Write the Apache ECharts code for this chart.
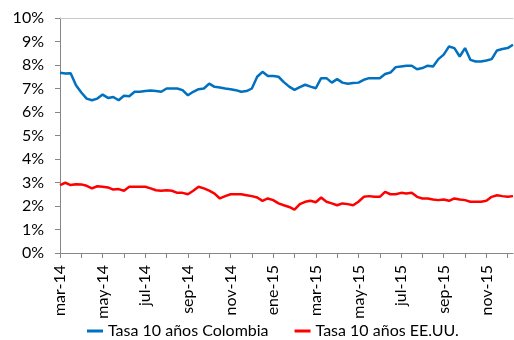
<!DOCTYPE html>
<html>
<head>
<meta charset="utf-8">
<script src="https://cdn.jsdelivr.net/npm/echarts@6/dist/echarts.min.js"></script>
<style>
html,body{margin:0;padding:0;background:#fff;}
#chart{width:514px;height:340px;}
</style>
</head>
<body>
<div id="chart"></div>
<script>
// meses del eje (4 observaciones semanales aprox. por mes)
var months = ['mar-14','abr-14','may-14','jun-14','jul-14','ago-14','sep-14','oct-14','nov-14','dic-14',
              'ene-15','feb-15','mar-15','abr-15','may-15','jun-15','jul-15','ago-15','sep-15','oct-15','nov-15','dic-15'];
var slotsPerMonth = 4;
var totalSlots = 86;

// Tasa 10 años Colombia (%)
var colombia = [
    7.67, 7.64, 7.65, 7.14, 6.83, 6.57, 6.50, 6.57, 6.74, 6.60,
    6.64, 6.50, 6.69, 6.67, 6.86, 6.86, 6.89, 6.91, 6.89, 6.86,
    7.00, 7.00, 7.00, 6.93, 6.71, 6.86, 6.97, 7.00, 7.21, 7.07,
    7.04, 7.00, 6.97, 6.93, 6.86, 6.89, 7.00, 7.50, 7.71, 7.53,
    7.53, 7.50, 7.27, 7.08, 6.94, 7.06, 7.16, 7.08, 7.01, 7.44,
    7.44, 7.25, 7.40, 7.25, 7.20, 7.23, 7.25, 7.37, 7.44, 7.44,
    7.44, 7.62, 7.68, 7.91, 7.94, 7.97, 7.97, 7.82, 7.87, 7.97,
    7.94, 8.25, 8.44, 8.79, 8.72, 8.36, 8.72, 8.22, 8.15, 8.15,
    8.19, 8.25, 8.62, 8.68, 8.72, 8.86
];

// Tasa 10 años EE.UU. (%)
var eeuu = [
    2.89, 2.99, 2.89, 2.93, 2.92, 2.86, 2.75, 2.84, 2.82, 2.79,
    2.70, 2.72, 2.65, 2.82, 2.82, 2.82, 2.82, 2.75, 2.67, 2.65,
    2.67, 2.65, 2.56, 2.56, 2.50, 2.65, 2.82, 2.75, 2.65, 2.53,
    2.32, 2.42, 2.50, 2.50, 2.50, 2.46, 2.42, 2.36, 2.22, 2.32,
    2.25, 2.11, 2.03, 1.96, 1.85, 2.08, 2.18, 2.22, 2.16, 2.36,
    2.18, 2.11, 2.03, 2.11, 2.08, 2.03, 2.18, 2.39, 2.42, 2.39,
    2.39, 2.60, 2.50, 2.50, 2.56, 2.53, 2.56, 2.39, 2.32, 2.32,
    2.28, 2.25, 2.28, 2.22, 2.32, 2.28, 2.25, 2.18, 2.18, 2.18,
    2.22, 2.39, 2.46, 2.42, 2.39, 2.42
];

var seriesNames = ['Tasa 10 años Colombia', 'Tasa 10 años EE.UU.'];

var slots = [];
for (var i = 0; i < totalSlots; i++) {
    slots.push(months[Math.floor(i / slotsPerMonth)] + '|' + (i % slotsPerMonth));
}

var myChart = echarts.init(document.getElementById('chart'));
var axisColor = '#868686';
var fontFamily = 'Lato';

var option = {
    animation: false,
    backgroundColor: '#fff',
    grid: {left: 60, right: 1, top: 18, bottom: 87, containLabel: false},
    legend: {
        data: seriesNames,
        icon: 'rect',
        left: 82,
        top: 318,
        itemWidth: 16,
        itemHeight: 3,
        itemGap: 26,
        textStyle: {fontFamily: fontFamily, fontSize: 16, color: '#000'}
    },
    xAxis: [{
        type: 'category',
        data: slots,
        boundaryGap: false,
        axisLine: {lineStyle: {color: axisColor, width: 1}},
        axisTick: {show: true, interval: 3, length: 5, lineStyle: {color: axisColor}},
        axisLabel: {
            interval: 7,
            rotate: 90,
            margin: 12,
            fontFamily: fontFamily,
            fontSize: 16,
            color: '#000',
            formatter: function (v) { return v.split('|')[0]; }
        },
        splitLine: {show: false}
    }, {
        type: 'category',
        data: slots,
        position: 'top',
        boundaryGap: false,
        axisLine: {show: true, lineStyle: {color: '#c8c8c8', width: 1}},
        axisTick: {show: false},
        axisLabel: {show: false}
    }],
    yAxis: {
        type: 'value',
        min: 0,
        max: 10,
        interval: 1,
        axisLine: {show: true, lineStyle: {color: axisColor}},
        axisTick: {show: true, length: 5, lineStyle: {color: axisColor}},
        axisLabel: {
            margin: 16,
            fontFamily: fontFamily,
            fontSize: 16,
            color: '#000',
            formatter: '{value}%'
        },
        splitLine: {show: false}
    },
    series: [{
        name: seriesNames[0],
        type: 'line',
        data: colombia,
        symbol: 'none',
        lineStyle: {color: '#0070C0', width: 2.5},
        itemStyle: {color: '#0070C0'}
    }, {
        name: seriesNames[1],
        type: 'line',
        data: eeuu,
        symbol: 'none',
        lineStyle: {color: '#FF0000', width: 2.5},
        itemStyle: {color: '#FF0000'}
    }]
};

myChart.setOption(option);
</script>
</body>
</html>
